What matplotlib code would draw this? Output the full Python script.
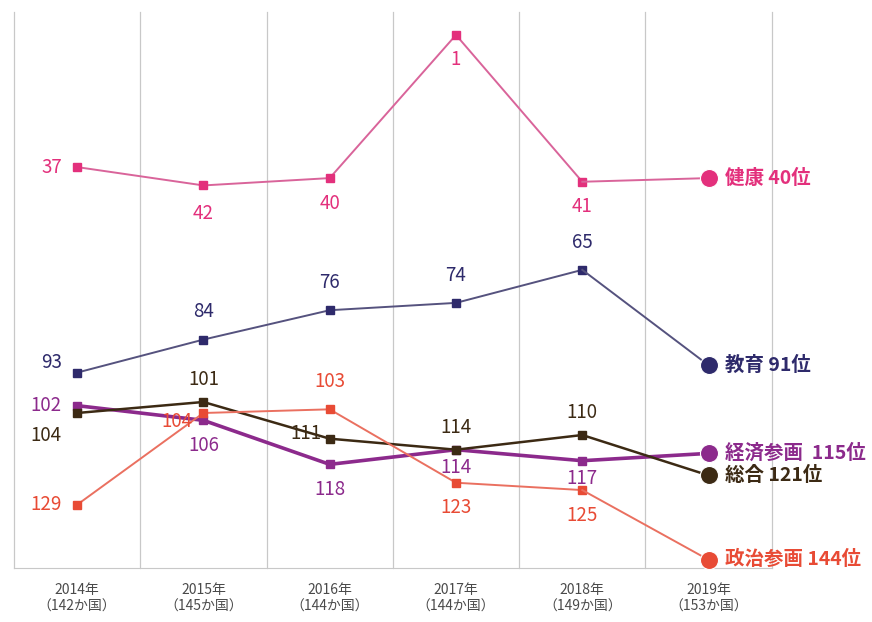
import numpy as np
import matplotlib.pyplot as plt

plt.rcParams['font.family'] = ['Noto Sans CJK JP', 'DejaVu Sans']

years = ['2014年\n（142か国）', '2015年\n（145か国）', '2016年\n（144か国）',
         '2017年\n（144か国）', '2018年\n（149か国）', '2019年\n（153か国）']

health = [37, 42, 40, 1, 41, 40]
education = [93, 84, 76, 74, 65, 91]
economy = [102, 106, 118, 114, 117, 115]
overall = [104, 101, 111, 114, 110, 121]
politics = [129, 104, 103, 123, 125, 144]

end_labels = ['健康 40位', '教育 91位', '経済参画  115位', '総合 121位', '政治参画 144位']

# where each value label sits relative to its point
health_pos = ['l', 'bb', 'b', 'b', 'b']
education_pos = ['lt', 't', 't', 't', 't']
economy_pos = ['l', 'b', 'b', 'bs', 'bs']
overall_pos = ['lb', 'ts', 'll', 'ts', 'ts']
politics_pos = ['l', 'lo', 't', 'b', 'b']

series = [
    (health, '#e3307c', '#d9649a', 1.4, health_pos),
    (education, '#2e2a6b', '#55527e', 1.4, education_pos),
    (economy, '#8c2a8c', '#8c2a8c', 2.6, economy_pos),
    (overall, '#3c2a14', '#3c2a14', 1.8, overall_pos),
    (politics, '#e84b35', '#ea7060', 1.4, politics_pos),
]

offsets = {'l': (-11, 0, 'right', 'center'),
           'lt': (-11, 7, 'right', 'center'),
           'lb': (-11, -16, 'right', 'center'),
           'll': (-6, 4, 'right', 'center'),
           'lo': (-8, -6, 'right', 'center'),
           't': (0, 20, 'center', 'center'),
           'ts': (0, 16, 'center', 'center'),
           'b': (0, -18, 'center', 'center'),
           'bb': (0, -20, 'center', 'center'),
           'bs': (0, -13, 'center', 'center')}

fig = plt.figure(figsize=(8.72, 6.22), dpi=100)
ax = fig.add_axes([0.016, 0.087, 0.869, 0.894])

x = np.arange(len(years))

for xv in np.arange(-0.5, 6, 1):
    ax.axvline(xv, color='#c8c8c8', lw=0.9, zorder=0, clip_on=False)

for vals, col, lcol, lw, pos in series:
    ax.plot(x[:5], vals[:5], color=lcol, lw=lw, marker='s', ms=6,
            mfc=col, mec=col, zorder=3)
    ax.plot(x[4:], vals[4:], color=lcol, lw=lw, zorder=3)
    ax.plot(x[5], vals[5], 'o', ms=13, color=col, mec='white', mew=0.8, zorder=4)
    for i in range(5):
        dx, dy, ha, va = offsets[pos[i]]
        ax.annotate(str(vals[i]), (x[i], vals[i]), xytext=(dx, dy),
                    textcoords='offset points', ha=ha, va=va,
                    fontsize=13.5, color=col, zorder=5)

for (vals, col, lcol, lw, pos), lab in zip(series, end_labels):
    ax.annotate(lab, (x[5], vals[5]), xytext=(12, 0), textcoords='offset points',
                ha='left', va='center', fontsize=14, fontweight='bold',
                color=col, annotation_clip=False)

ax.set_xlim(-0.5, 5.5)
ax.set_ylim(146.2, -5.3)
ax.set_xticks(x)
ax.set_xticklabels(years, fontsize=10, color='#4a4a4a', linespacing=1.25)
ax.tick_params(axis='x', length=0, pad=11)
ax.set_yticks([])
for s in ['top', 'left', 'right']:
    ax.spines[s].set_visible(False)
ax.spines['bottom'].set_color('#c8c8c8')

fig.savefig('out.png', dpi=100)
